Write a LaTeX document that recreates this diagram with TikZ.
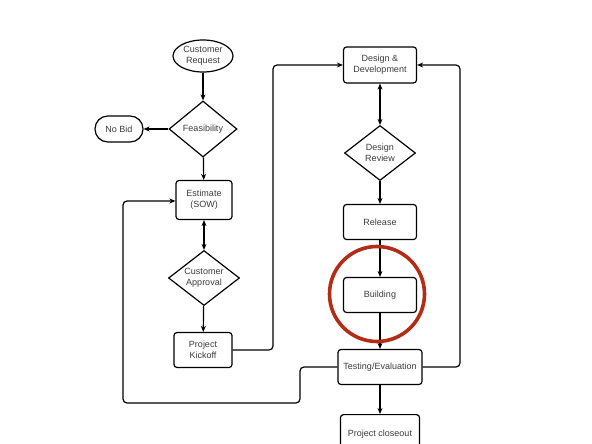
\documentclass[tikz,border=0pt]{standalone}
\usepackage{fontspec}
\setmainfont{Liberation Sans}
\usetikzlibrary{shapes.geometric,arrows.meta}
\definecolor{annot}{RGB}{178,44,22}
\definecolor{txt}{RGB}{60,60,60}
\begin{document}
\begin{tikzpicture}[x=1pt,y=-1pt,
  font=\fontsize{9}{11}\selectfont,
  every node/.style={text=txt, align=center, inner sep=0pt, line width=1.2pt},
  box/.style={draw, rounded corners=3pt, minimum width=#1, minimum height=35pt},
  dia/.style={draw, diamond, shape aspect=1.3},
  conn/.style={line width=1.2pt, -{Stealth[length=6pt,width=5pt]}},
  bconn/.style={line width=1.2pt, {Stealth[length=6pt,width=5pt]}-{Stealth[length=6pt,width=5pt]}},
  loop/.style={conn, rounded corners=4pt}]
\fill[white] (0,0) rectangle (592,444);
\useasboundingbox (0,0) rectangle (592,444);

\node[draw, ellipse, minimum width=60pt, minimum height=32pt] (req) at (203,56) {Customer\\Request};
\node[dia, minimum width=68pt, minimum height=56pt] (feas) at (203,129) {Feasibility};
\node[draw, rounded corners=12.9pt, minimum width=48pt, minimum height=26pt] (nobid) at (119,129) {No Bid};
\node[box=56pt, minimum height=39pt] (est) at (204,200) {Estimate\\(SOW)};
\node[dia, minimum width=71pt, minimum height=55pt] (appr) at (204,278) {Customer\\Approval};
\node[box=58pt] (kick) at (203,350) {Project\\Kickoff};

\node[box=73pt, minimum height=36pt] (dd) at (380,65) {Design \&\\Development};
\node[dia, minimum width=71pt, minimum height=55pt] (rev) at (380,153) {Design\\Review};
\node[box=73pt] (rel) at (380,222) {Release};
\node[box=73pt] (bld) at (380,295) {Building};
\node[box=84pt] (test) at (380,367) {Testing/Evaluation};
\node[box=79pt, minimum height=40pt, anchor=north] (close) at (380,414) {Project closeout};

\draw[conn] (req) -- (feas);
\draw[conn] (feas) -- (nobid);
\draw[conn] (feas) -- (est);
\draw[bconn] (est) -- (appr);
\draw[conn] (appr) -- (kick);
\draw[loop] (kick.east) -- (273,350) -- (273,65) -- (dd.west);

\draw[bconn] (dd) -- (rev);
\draw[conn] (rev) -- (rel);
\draw[conn] (rel) -- (bld);
\draw[conn] (bld) -- (test);
\draw[conn] (test) -- (close);
\draw[loop] (test.east) -- (460,367) -- (460,65) -- (dd.east);
\draw[loop] (test.west) -- (300,367) -- (300,403) -- (123,403) -- (123,201) -- (est.west |- 0,201);

\draw[annot, line width=3.6pt] (377,294) circle (47.5pt);
\end{tikzpicture}
\end{document}
